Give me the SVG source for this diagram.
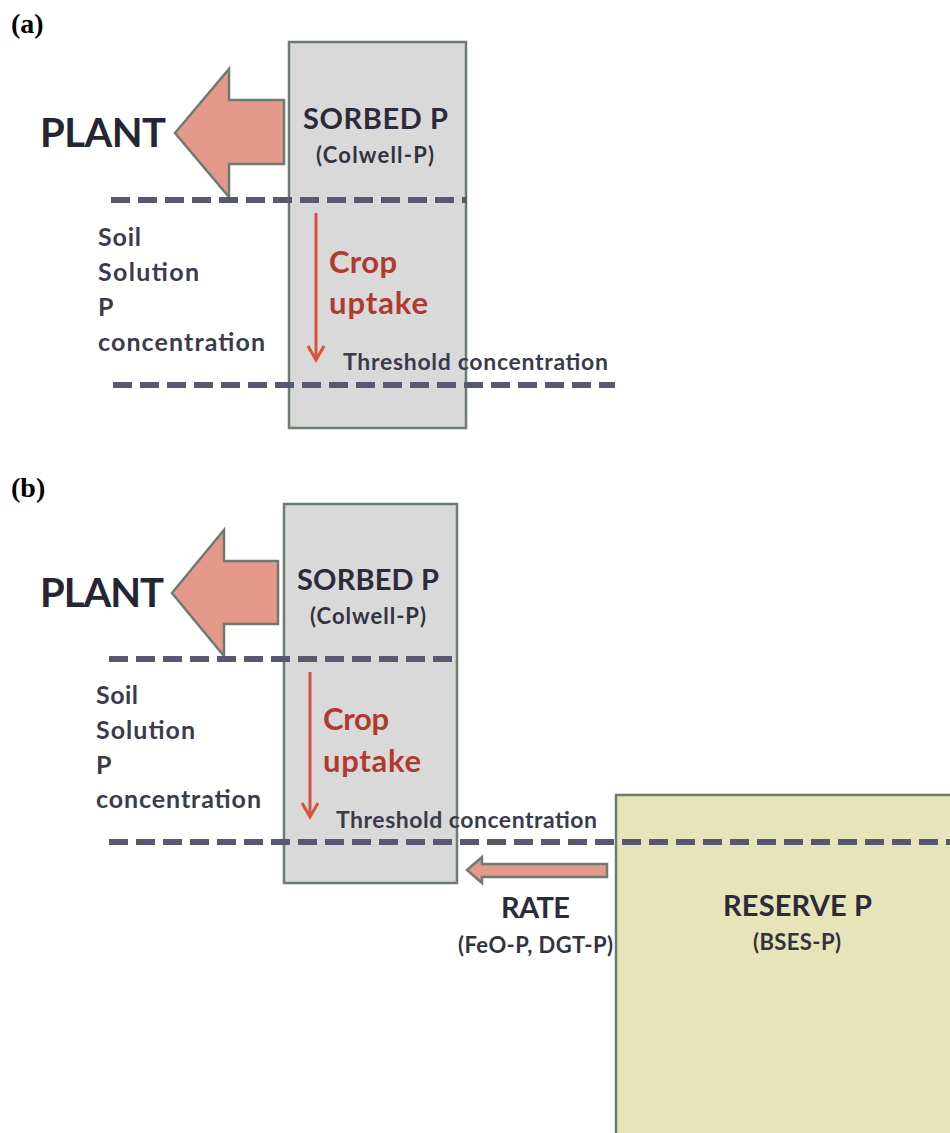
<svg xmlns="http://www.w3.org/2000/svg" width="950" height="1133" viewBox="0 0 950 1133">
<style>
.box{fill:#d9d9d9;stroke:#6e7c70;stroke-width:2.5}
.res{fill:#e6e4b9;stroke:#6e7c70;stroke-width:2.5}
.big{fill:#e4998a;stroke:#6e7c70;stroke-width:2.5;stroke-linejoin:miter}
.dash{stroke:#585870;stroke-width:6;stroke-dasharray:19 8;fill:none}
.red{stroke:#d9533a;stroke-width:3;fill:none}
.t{font-family:Lato,"Open Sans",sans-serif;font-weight:bold;fill:#2b2b3a}
.lab{font-family:"Liberation Serif",serif;font-weight:bold;font-size:28px;fill:#000}
.plant{font-size:40px;fill:#262633}
.hd{font-size:29px}
.sub{font-size:22px;fill:#33333f}
.soil{font-size:25px;fill:#3b3b4b}
.crop{font-size:31px;fill:#b03a2e}
.thr{font-size:23px;fill:#3b3b4b}
</style>
<text class="lab" x="11" y="33">(a)</text>
<text class="lab" x="11" y="497">(b)</text>
<g id="a-sorbed">
<rect class="box" x="289" y="42" width="177" height="386"/>
<text class="t hd" x="303" y="129" textLength="145" lengthAdjust="spacing">SORBED P</text>
<text class="t sub" x="316" y="163" textLength="118" lengthAdjust="spacing">(Colwell-P)</text>
</g>
<g id="a-plant">
<text class="t plant" x="40" y="147" textLength="126" lengthAdjust="spacing">PLANT</text>
</g>
<g id="a-soil">
<text class="t soil" x="98" y="246" textLength="43" lengthAdjust="spacing">Soil</text>
<text class="t soil" x="98" y="281" textLength="101" lengthAdjust="spacing">Solution</text>
<text class="t soil" x="98" y="316">P</text>
<text class="t soil" x="98" y="351" textLength="167" lengthAdjust="spacing">concentration</text>
</g>
<g id="a-crop">
<text class="t crop" x="329" y="273" textLength="68" lengthAdjust="spacing">Crop</text>
<text class="t crop" x="329" y="314" textLength="99" lengthAdjust="spacing">uptake</text>
</g>
<g id="a-threshold">
<text class="t thr" x="343" y="370" textLength="265" lengthAdjust="spacing">Threshold concentration</text>
</g>
<g id="b-sorbed">
<rect class="box" x="284" y="504" width="173" height="379"/>
<text class="t hd" x="297" y="590" textLength="142" lengthAdjust="spacing">SORBED P</text>
<text class="t sub" x="310" y="624" textLength="116" lengthAdjust="spacing">(Colwell-P)</text>
</g>
<g id="b-plant">
<text class="t plant" x="40" y="607" textLength="124" lengthAdjust="spacing">PLANT</text>
</g>
<g id="b-soil">
<text class="t soil" x="96" y="704" textLength="42" lengthAdjust="spacing">Soil</text>
<text class="t soil" x="96" y="739" textLength="99" lengthAdjust="spacing">Solution</text>
<text class="t soil" x="96" y="774">P</text>
<text class="t soil" x="96" y="808" textLength="165" lengthAdjust="spacing">concentration</text>
</g>
<g id="b-crop">
<text class="t crop" x="323" y="730" textLength="66" lengthAdjust="spacing">Crop</text>
<text class="t crop" x="323" y="772" textLength="98" lengthAdjust="spacing">uptake</text>
</g>
<g id="b-threshold">
<text class="t thr" x="336" y="828" textLength="261" lengthAdjust="spacing">Threshold concentration</text>
</g>
<g id="b-reserve">
<rect class="res" x="616" y="795" width="340" height="345"/>
<text class="t hd" x="723" y="916" textLength="149" lengthAdjust="spacing">RESERVE P</text>
<text class="t sub" x="753" y="950" textLength="88" lengthAdjust="spacing">(BSES-P)</text>
</g>
<g id="b-rate">
<text class="t hd" x="501" y="918" textLength="69" lengthAdjust="spacing">RATE</text>
<text class="t sub" x="458" y="953" textLength="155" lengthAdjust="spacing">(FeO-P, DGT-P)</text>
</g>
<g id="connectors">
<polygon class="big" points="175,133 229,69 229,100 284,100 284,164 229,164 229,197"/>
<line class="dash" x1="111" y1="200" x2="467" y2="200"/>
<line class="dash" x1="113" y1="385" x2="615" y2="385"/>
<line class="red" x1="316" y1="213" x2="316" y2="359"/>
<polyline class="red" points="308,346 316,360 324,346"/>
<polygon class="big" points="172,593 224,530 224,561 278,561 278,624 224,624 224,656"/>
<line class="dash" x1="109" y1="659" x2="458" y2="659"/>
<line class="dash" x1="109" y1="842" x2="950" y2="842"/>
<line class="red" x1="310" y1="672" x2="310" y2="816"/>
<polyline class="red" points="302,803 310,817 318,803"/>
<polygon class="big" points="467,870 482,857 482,864 607,864 607,877 482,877 482,883"/>
</g>
</svg>
